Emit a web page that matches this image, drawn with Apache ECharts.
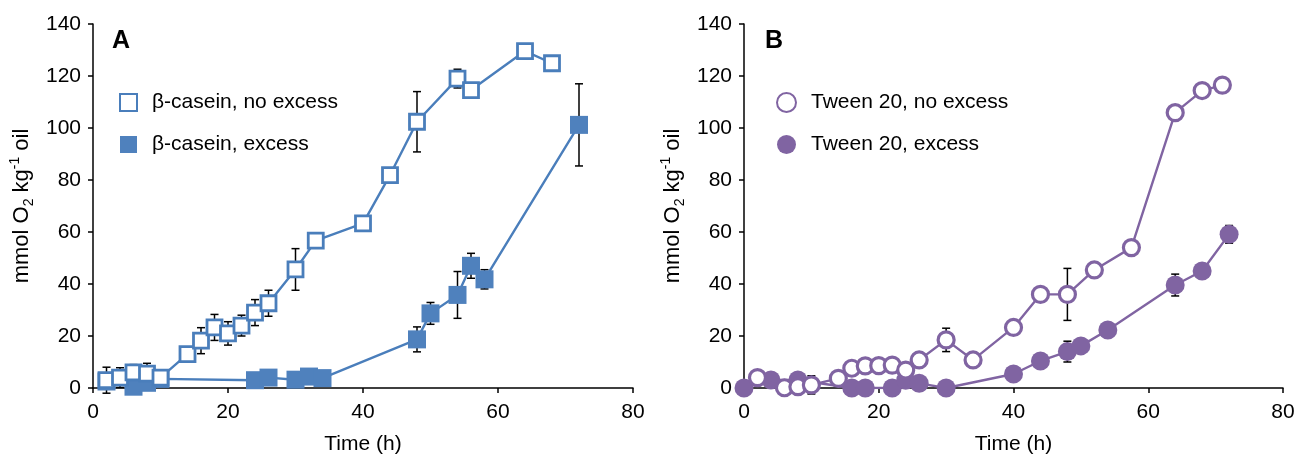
<!DOCTYPE html>
<html>
<head>
<meta charset="utf-8">
<script src="https://cdn.jsdelivr.net/npm/echarts@6/dist/echarts.min.js"></script>
<style>
html,body{margin:0;padding:0;background:#fff;}
#chart{width:1298px;height:462px;}
</style>
</head>
<body>
<div id="chart"></div>
<script>
// ---- Data ----
// Panel A: beta-casein
const caseinNoExcessX = [2, 4, 6, 8, 10, 14, 16, 18, 20, 22, 24, 26, 30, 33, 40, 44, 48, 54, 56, 64, 68];
const caseinNoExcessY = [3, 4, 6, 5.5, 4, 13, 18.2, 23.3, 21, 24, 29, 32.6, 45.6, 56.7, 63.3, 81.9, 102.4, 119, 114.6, 129.6, 124.9];
const caseinNoExcessErr = [5, 3.8, 3, 4, 3, 0, 5, 5, 4.5, 4, 5, 5, 8, 0, 0, 0, 11.6, 3.6, 0, 0, 0];

const caseinExcessX = [2, 6, 8, 10, 24, 26, 30, 32, 34, 48, 50, 54, 56, 58, 72];
const caseinExcessY = [2.5, 0.5, 2, 3.5, 3, 4, 3.2, 4.4, 3.8, 18.7, 28.7, 35.8, 47, 41.8, 101.2];
const caseinExcessErr = [0, 0, 0, 0, 0, 0, 0, 0, 0, 4.8, 4.2, 9, 4.8, 3.7, 15.8];

// Panel B: Tween 20
const tweenNoExcessX = [2, 6, 8, 10, 14, 16, 18, 20, 22, 24, 26, 30, 34, 40, 44, 48, 52, 57.5, 64, 68, 71];
const tweenNoExcessY = [4, 0.1, 0.5, 1.2, 3.7, 7.6, 8.5, 8.6, 8.8, 6.9, 10.8, 18.5, 10.8, 23.3, 36, 36, 45.4, 54, 105.9, 114.4, 116.5];
const tweenNoExcessErr = [0, 0, 0, 3.5, 0, 0, 0, 2, 2, 0, 0, 4.5, 0, 0, 0, 10, 0, 0, 0, 0, 0];

const tweenExcessX = [0, 4, 8, 16, 18, 22, 24, 26, 30, 40, 44, 48, 50, 54, 64, 68, 72];
const tweenExcessY = [0, 3.1, 3.1, 0, 0, 0, 3, 1.8, 0, 5.4, 10.4, 14, 16.2, 22.3, 39.6, 45, 59.1];
const tweenExcessErr = [0, 0, 0, 0, 0, 0, 0, 0, 0, 0, 0, 4, 0, 0, 4.2, 1.5, 3.4];

const seriesNames = ['β-casein, no excess', 'β-casein, excess', 'Tween 20, no excess', 'Tween 20, excess'];
const panelLabels = ['A', 'B'];
const xTicks = {min: 0, max: 80, interval: 20};
const yTicks = {min: 0, max: 140, interval: 20};
const xAxisTitle = 'Time (h)';

// ---- Build ----
const FONT = '"Liberation Sans", Arial, sans-serif';
const BLUE = '#4A7EBB', BLUE_FILL = '#4F81BD', PURPLE = '#8064A2';

function pts(xs, ys) { return xs.map((x, i) => [x, ys[i]]); }
function errPts(xs, ys, es) {
  const out = [];
  xs.forEach((x, i) => { if (es[i] > 0) out.push([x, ys[i], es[i]]); });
  return out;
}
function errSeries(idx, data) {
  return {
    type: 'custom', xAxisIndex: idx, yAxisIndex: idx, z: 1, silent: true,
    data: data,
    renderItem: function (params, api) {
      const x = api.value(0), y = api.value(1), e = api.value(2);
      const top = api.coord([x, y + e]);
      const bot = api.coord([x, y - e]);
      const w = 4;
      const st = {stroke: '#000', lineWidth: 1.5};
      return {type: 'group', children: [
        {type: 'line', shape: {x1: top[0], y1: top[1], x2: bot[0], y2: bot[1]}, style: st},
        {type: 'line', shape: {x1: top[0] - w, y1: top[1], x2: top[0] + w, y2: top[1]}, style: st},
        {type: 'line', shape: {x1: bot[0] - w, y1: bot[1], x2: bot[0] + w, y2: bot[1]}, style: st}
      ]};
    }
  };
}

const yName = '{a|mmol O}{s|2}{a| kg}{p|-1}{a| oil}';
function mkX(idx) {
  return {
    gridIndex: idx, type: 'value', min: xTicks.min, max: xTicks.max, interval: xTicks.interval,
    name: xAxisTitle, nameLocation: 'middle', nameGap: 46,
    nameTextStyle: {fontFamily: FONT, fontSize: 21, color: '#000'},
    axisLine: {onZero: false, lineStyle: {color: '#000', width: 1.5}},
    axisTick: {show: true, inside: false, length: 5, lineStyle: {color: '#000', width: 1.5}},
    axisLabel: {fontFamily: FONT, fontSize: 21, color: '#000', margin: 14},
    splitLine: {show: false}
  };
}
function mkY(idx) {
  return {
    gridIndex: idx, type: 'value', min: yTicks.min, max: yTicks.max, interval: yTicks.interval,
    name: yName, nameLocation: 'middle', nameGap: 57, nameRotate: 90,
    nameTextStyle: {
      color: '#000',
      rich: {
        a: {fontFamily: FONT, fontSize: 22, color: '#000', lineHeight: 28},
        s: {fontFamily: FONT, fontSize: 14, color: '#000', lineHeight: 15, verticalAlign: 'bottom'},
        p: {fontFamily: FONT, fontSize: 14, color: '#000', lineHeight: 15, verticalAlign: 'top'}
      }
    },
    axisLine: {show: true, lineStyle: {color: '#000', width: 1.5}},
    axisTick: {show: true, inside: false, length: 5, lineStyle: {color: '#000', width: 1.5}},
    axisLabel: {fontFamily: FONT, fontSize: 21, color: '#000', margin: 12},
    splitLine: {show: false}
  };
}
function mkLegend(names, icons, left, size) {
  return {
    orient: 'vertical', left: left, top: 87, itemGap: 21,
    itemWidth: size, itemHeight: size, selectedMode: false,
    data: names.map((n, i) => ({name: n, icon: icons[i]})),
    textStyle: {fontFamily: FONT, fontSize: 21, color: '#000', padding: [0, 0, 0, 10]}
  };
}

const option = {
  animation: false,
  backgroundColor: '#fff',
  title: [
    {text: panelLabels[0], left: 112, top: 29, padding: 0, textStyle: {fontFamily: FONT, fontSize: 25, fontWeight: 'bold', color: '#000'}},
    {text: panelLabels[1], left: 765, top: 29, padding: 0, textStyle: {fontFamily: FONT, fontSize: 25, fontWeight: 'bold', color: '#000'}}
  ],
  legend: [
    mkLegend([seriesNames[0], seriesNames[1]], ['rect', 'rect'], 114, 17),
    mkLegend([seriesNames[2], seriesNames[3]], ['circle', 'circle'], 771, 19)
  ],
  grid: [
    {left: 93, right: 665, top: 24, bottom: 74},
    {left: 744, right: 15, top: 24, bottom: 74}
  ],
  xAxis: [mkX(0), mkX(1)],
  yAxis: [mkY(0), mkY(1)],
  series: [
    errSeries(0, errPts(caseinExcessX, caseinExcessY, caseinExcessErr)),
    errSeries(0, errPts(caseinNoExcessX, caseinNoExcessY, caseinNoExcessErr)),
    errSeries(1, errPts(tweenExcessX, tweenExcessY, tweenExcessErr)),
    errSeries(1, errPts(tweenNoExcessX, tweenNoExcessY, tweenNoExcessErr)),
    {
      name: seriesNames[1], type: 'line', xAxisIndex: 0, yAxisIndex: 0, z: 3,
      data: pts(caseinExcessX, caseinExcessY),
      symbol: 'rect', symbolSize: 18,
      lineStyle: {color: BLUE, width: 2.4},
      itemStyle: {color: BLUE_FILL, borderColor: BLUE_FILL, borderWidth: 0}
    },
    {
      name: seriesNames[0], type: 'line', xAxisIndex: 0, yAxisIndex: 0, z: 4,
      data: pts(caseinNoExcessX, caseinNoExcessY),
      symbol: 'rect', symbolSize: 15,
      lineStyle: {color: BLUE, width: 2.4},
      itemStyle: {color: '#fff', borderColor: BLUE, borderWidth: 2.8}
    },
    {
      name: seriesNames[3], type: 'line', xAxisIndex: 1, yAxisIndex: 1, z: 3,
      data: pts(tweenExcessX, tweenExcessY),
      symbol: 'circle', symbolSize: 19,
      lineStyle: {color: PURPLE, width: 2.4},
      itemStyle: {color: PURPLE, borderColor: PURPLE, borderWidth: 0}
    },
    {
      name: seriesNames[2], type: 'line', xAxisIndex: 1, yAxisIndex: 1, z: 4,
      data: pts(tweenNoExcessX, tweenNoExcessY),
      symbol: 'circle', symbolSize: 16,
      lineStyle: {color: PURPLE, width: 2.4},
      itemStyle: {color: '#fff', borderColor: PURPLE, borderWidth: 3.2}
    }
  ]
};

const chart = echarts.init(document.getElementById('chart'), null, {renderer: 'canvas'});
chart.setOption(option);
</script>
</body>
</html>
